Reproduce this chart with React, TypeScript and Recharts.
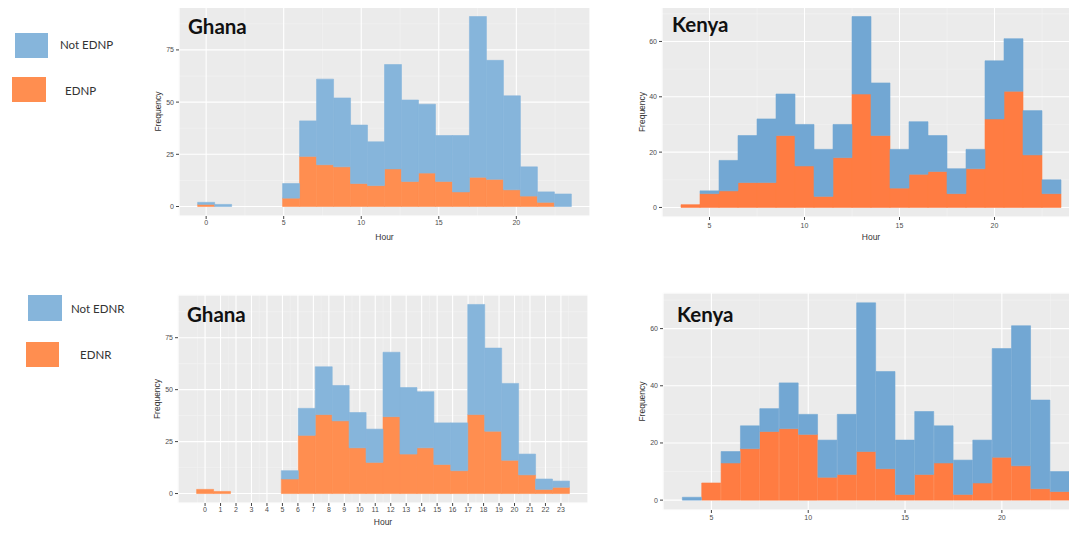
import React from 'react';
import { ComposedChart, Bar, XAxis, YAxis, CartesianGrid } from 'recharts';

// Ghana histogram bins (centres, hours)
const ghanaBins = [0, 1.095, 2.19, 3.286, 4.381, 5.476, 6.571, 7.667, 8.762, 9.857, 10.952, 12.048, 13.143, 14.238, 15.333, 16.429, 17.524, 18.619, 19.714, 20.81, 21.905, 23];
const ghanaTotal = [2, 1, 0, 0, 0, 11, 41, 61, 52, 39, 31, 68, 51, 49, 34, 34, 91, 70, 53, 19, 7, 6];
const ghanaEdnp = [1, 0, 0, 0, 0, 4, 24, 20, 19, 11, 10, 18, 12, 16, 12, 7, 14, 13, 8, 5, 2, 0];
const ghanaEdnr = [2, 1, 0, 0, 0, 7, 28, 38, 35, 22, 15, 37, 19, 22, 14, 11, 38, 30, 16, 9, 2, 3];

// Kenya histogram bins
const kenyaBins = [4, 5, 6, 7, 8, 9, 10, 11, 12, 13, 14, 15, 16, 17, 18, 19, 20, 21, 22, 23];
const kenyaTotal = [1, 6, 17, 26, 32, 41, 30, 21, 30, 69, 45, 21, 31, 26, 14, 21, 53, 61, 35, 10];
const kenyaEdnp = [1, 5, 6, 9, 9, 26, 15, 4, 18, 41, 26, 7, 12, 13, 5, 14, 32, 42, 19, 5];
const kenyaEdnr = [0, 6, 13, 18, 24, 25, 23, 8, 9, 17, 11, 2, 9, 13, 2, 6, 15, 12, 4, 3];

const ghanaTicksTop = [0, 5, 10, 15, 20];
const ghanaTicksBottom = [0, 1, 2, 3, 4, 5, 6, 7, 8, 9, 10, 11, 12, 13, 14, 15, 16, 17, 18, 19, 20, 21, 22, 23];
const ghanaMinorTop = [2.5, 7.5, 12.5, 17.5, 22.5];
const ghanaMinorBottom = [-0.5, 0.5, 1.5, 2.5, 3.5, 4.5, 5.5, 6.5, 7.5, 8.5, 9.5, 10.5, 11.5, 12.5, 13.5, 14.5, 15.5, 16.5, 17.5, 18.5, 19.5, 20.5, 21.5, 22.5, 23.5];
const ghanaYTicks = [0, 25, 50, 75];
const ghanaYMinor = [12.5, 37.5, 62.5, 87.5];
const kenyaTicks = [5, 10, 15, 20];
const kenyaMinor = [2.5, 7.5, 12.5, 17.5, 22.5];
const kenyaYTicks = [0, 20, 40, 60];
const kenyaYMinor = [10, 30, 50, 70];

const build = (bins: number[], total: number[], sub: number[]) =>
  bins.map((x, i) => ({ x, sub: sub[i], rest: total[i] - sub[i] }));

const tickStyle = { fontSize: 7, fill: '#4d4d4d', fontFamily: 'Liberation Sans, Arial, sans-serif' };
const labelStyle = { fontSize: 8.5, fill: '#333', fontFamily: 'Liberation Sans, Arial, sans-serif', textAnchor: 'middle' as const };

type PanelProps = {
  left: number; top: number; width: number; height: number;
  yWidth: number; xHeight: number;
  data: { x: number; sub: number; rest: number }[];
  xDomain: [number, number]; xTicks: number[]; xMinor: number[];
  yDomain: [number, number]; yTicks: number[]; yMinor: number[];
  blue: string; orange: string;
  yLabelOffset: number; xLabelOffset: number; tickMargin: number;
};

function Panel(p: PanelProps) {
  return (
    <div style={{ position: 'absolute', left: p.left, top: p.top }}>
      <ComposedChart width={p.width} height={p.height} data={p.data}
        margin={{ top: 7, right: 0, bottom: 0, left: 0 }} barCategoryGap={0} barGap={0}>
        <XAxis xAxisId="m" type="number" dataKey="x" domain={p.xDomain} ticks={p.xMinor} allowDataOverflow hide />
        <YAxis yAxisId="m" type="number" domain={p.yDomain} ticks={p.yMinor} allowDataOverflow hide />
        <CartesianGrid xAxisId="m" yAxisId="m" stroke="#f4f4f4" strokeWidth={0.6} fill="#ebebeb" fillOpacity={1} />
        <XAxis type="number" dataKey="x" domain={p.xDomain} ticks={p.xTicks} allowDataOverflow interval={0}
          height={p.xHeight} axisLine={false} tickLine={{ stroke: '#444' }} tickSize={3} tickMargin={p.tickMargin}
          tick={tickStyle}
          label={{ value: 'Hour', position: 'insideBottom', offset: p.xLabelOffset, style: labelStyle }} />
        <YAxis type="number" domain={p.yDomain} ticks={p.yTicks} allowDataOverflow interval={0}
          width={p.yWidth} axisLine={false} tickLine={{ stroke: '#444' }} tickSize={3} tickMargin={2}
          tick={tickStyle}
          label={{ value: 'Frequency', angle: -90, position: 'insideLeft', offset: p.yLabelOffset, style: labelStyle }} />
        <CartesianGrid stroke="#ffffff" strokeWidth={1.1} />
        <Bar dataKey="sub" stackId="h" fill={p.orange} stroke={p.orange} strokeWidth={0.6} isAnimationActive={false} />
        <Bar dataKey="rest" stackId="h" fill={p.blue} stroke={p.blue} strokeWidth={0.6} isAnimationActive={false} />
      </ComposedChart>
    </div>
  );
}

const GH_BLUE = '#86b5db';
const GH_ORANGE = '#ff8e50';
const KE_BLUE = '#72a7d3';
const KE_ORANGE = '#ff7c42';

export default function App() {
  const titleFont = 'Lato, "Open Sans", sans-serif';
  const legendFont = 'Lato, "Open Sans", sans-serif';
  return (
    <div style={{ position: 'relative', width: 1077, height: 533, margin: -8, overflow: 'hidden', background: '#fff' }}>
      <Panel left={140} top={0} width={450} height={250} yWidth={39} xHeight={34}
        data={build(ghanaBins, ghanaTotal, ghanaEdnp)} xDomain={[-1.75, 24.75]} xTicks={ghanaTicksTop} xMinor={ghanaMinorTop}
        yDomain={[-4.55, 95.55]} yTicks={ghanaYTicks} yMinor={ghanaYMinor} blue={GH_BLUE} orange={GH_ORANGE}
        yLabelOffset={18} xLabelOffset={10} tickMargin={1} />
      <Panel left={620} top={0} width={460} height={250} yWidth={42} xHeight={33}
        data={build(kenyaBins, kenyaTotal, kenyaEdnp)} xDomain={[2.5, 24.5]} xTicks={kenyaTicks} xMinor={kenyaMinor}
        yDomain={[-3.45, 72.45]} yTicks={kenyaYTicks} yMinor={kenyaYMinor} blue={KE_BLUE} orange={KE_ORANGE}
        yLabelOffset={22} xLabelOffset={10} tickMargin={3} />
      <Panel left={139} top={288} width={449} height={245} yWidth={39} xHeight={30}
        data={build(ghanaBins, ghanaTotal, ghanaEdnr)} xDomain={[-1.75, 24.75]} xTicks={ghanaTicksBottom} xMinor={ghanaMinorBottom}
        yDomain={[-4.55, 95.55]} yTicks={ghanaYTicks} yMinor={ghanaYMinor} blue={GH_BLUE} orange={GH_ORANGE}
        yLabelOffset={18} xLabelOffset={8} tickMargin={1} />
      <Panel left={621} top={286} width={468} height={247} yWidth={42} xHeight={23}
        data={build(kenyaBins, kenyaTotal, kenyaEdnr)} xDomain={[2.5, 24.5]} xTicks={kenyaTicks} xMinor={kenyaMinor}
        yDomain={[-3.45, 72.45]} yTicks={kenyaYTicks} yMinor={kenyaYMinor} blue={KE_BLUE} orange={KE_ORANGE}
        yLabelOffset={21} xLabelOffset={2} tickMargin={2} />

      <svg width={1077} height={533} style={{ position: 'absolute', left: 0, top: 0, pointerEvents: 'none' }}>
        <g fontFamily={titleFont} fontWeight={700} fontSize={20.5} fill="#111">
          <text x={188} y={34}>Ghana</text>
          <text x={672} y={32}>Kenya</text>
          <text x={187} y={322}>Ghana</text>
          <text x={677} y={322}>Kenya</text>
        </g>
        <rect x={15} y={33} width={33} height={25} fill={GH_BLUE} />
        <rect x={12} y={77} width={34} height={25} fill={GH_ORANGE} />
        <rect x={28} y={295} width={34} height={26} fill={GH_BLUE} />
        <rect x={26} y={342} width={33} height={25} fill={GH_ORANGE} />
        <g fontFamily={legendFont} fontSize={11.5} fill="#333">
          <text x={60} y={49}>Not EDNP</text>
          <text x={65} y={95}>EDNP</text>
          <text x={71} y={313}>Not EDNR</text>
          <text x={80} y={359}>EDNR</text>
        </g>
      </svg>
    </div>
  );
}
